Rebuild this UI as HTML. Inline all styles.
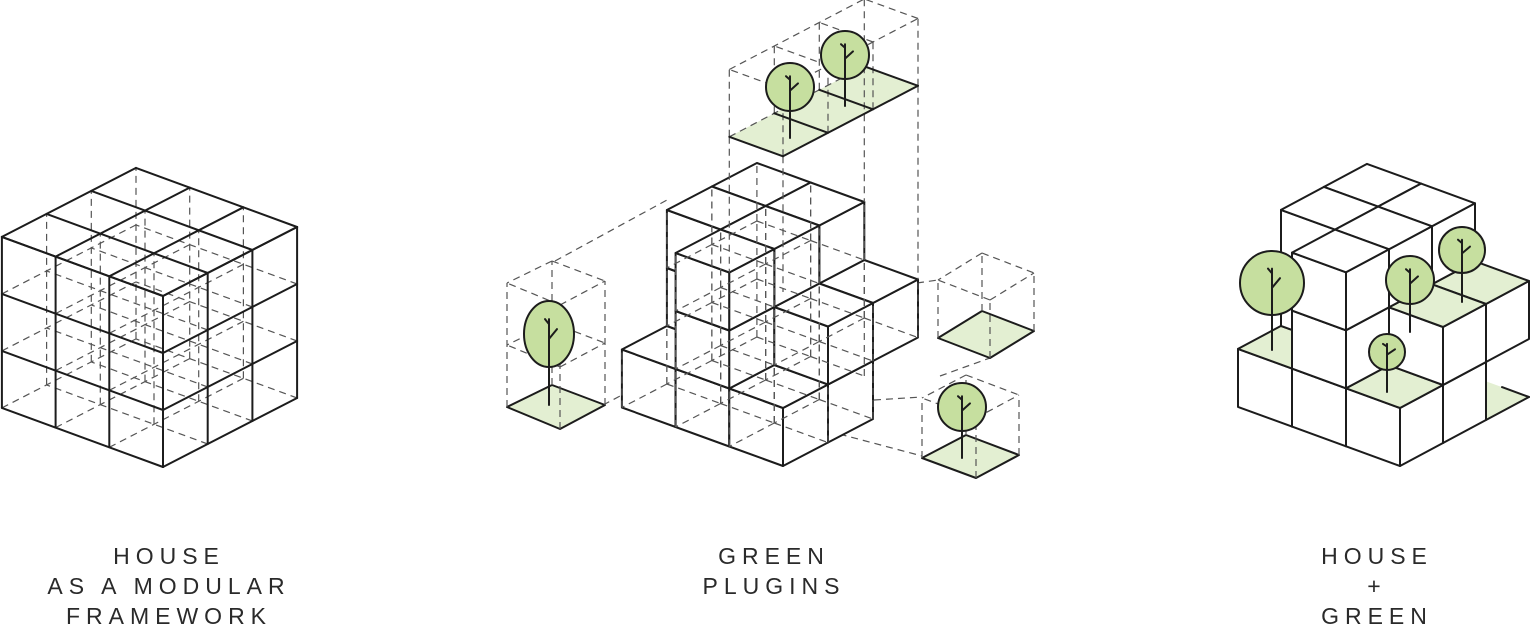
<!DOCTYPE html>
<html><head><meta charset="utf-8">
<style>
html,body{margin:0;padding:0;background:#fff;}
svg{display:block;}
text{font-family:"Liberation Sans",sans-serif;font-size:23px;fill:#2a2a2a;letter-spacing:6px;text-anchor:middle;}
</style></head>
<body>
<svg id="s" width="1536" height="632" viewBox="0 0 1536 632" xmlns="http://www.w3.org/2000/svg">
<g id="g"></g>
<text x="169" y="564">HOUSE</text>
<text x="169" y="594">AS A MODULAR</text>
<text x="169" y="624">FRAMEWORK</text>
<text x="774" y="564">GREEN</text>
<text x="774" y="594">PLUGINS</text>
<text x="1377" y="564">HOUSE</text>
<text x="1377" y="594">+</text>
<text x="1377" y="624">GREEN</text>
</svg>
<script>
var out=[];
var SOL='stroke="#1c1c1c" stroke-width="2" stroke-linejoin="round" stroke-linecap="round"';
var DSH='stroke="#555" stroke-width="1.2" stroke-dasharray="7 5" fill="none"';
var LG='#e3efd2', TG='#c6df9f';
function mk(o,A,B,Z){return function(a,b,z){return [o[0]+A[0]*a+B[0]*b, o[1]+A[1]*a+B[1]*b-Z*z];};}
function pts(p){return p.map(function(q){return q[0].toFixed(1)+','+q[1].toFixed(1);}).join(' ');}
function line(p,q,st){out.push('<line x1="'+p[0].toFixed(1)+'" y1="'+p[1].toFixed(1)+'" x2="'+q[0].toFixed(1)+'" y2="'+q[1].toFixed(1)+'" '+st+'/>');}
function poly(p,fill,st){out.push('<polygon points="'+pts(p)+'" fill="'+fill+'" '+st+'/>');}
function tree(cx,cy,r,ry,by){
  out.push('<ellipse cx="'+cx+'" cy="'+cy+'" rx="'+r+'" ry="'+ry+'" fill="'+TG+'" '+SOL+'/>');
  line([cx,cy-ry*0.45],[cx,by],SOL);
  line([cx,cy+ry*0.15],[cx+8,cy-ry*0.15],SOL);
  line([cx,cy-ry*0.3],[cx-4,cy-ry*0.45],SOL);
}
// LEFT FIGURE
(function(){
 var P=mk([163,467],[-53.7,-19.7],[44.7,-23],57);
 var i,j;
 for(i=0;i<=3;i++)for(j=0;j<=3;j++){
   if(!(i==0||j==0)) line(P(i,j,0),P(i,j,3),DSH);
 }
 for(var z=0;z<=3;z++){for(i=0;i<=3;i++){ if(!(z==3||i==0)) line(P(i,0,z),P(i,3,z),DSH);}
  for(j=0;j<=3;j++){ if(!(z==3||j==0)) line(P(0,j,z),P(3,j,z),DSH);} }
 for(i=0;i<=3;i++){line(P(i,0,0),P(i,0,3),SOL);line(P(i,0,3),P(i,3,3),SOL);}
 for(j=0;j<=3;j++){line(P(0,j,0),P(0,j,3),SOL);line(P(0,j,3),P(3,j,3),SOL);}
 for(z=0;z<=3;z++){line(P(0,0,z),P(3,0,z),SOL);line(P(0,0,z),P(0,3,z),SOL);}
})();
function house(P,green,dashed){
 var cells=[[0,0,0],[1,0,0],[1,0,1],[1,0,2],[2,0,0],[0,1,0],[0,1,1],[0,2,1]];
 for(var i=1;i<3;i++)for(var j=1;j<3;j++)for(var k=0;k<3;k++)cells.push([i,j,k]);
 cells.sort(function(a,b){var ka=a[2]-a[0]-a[1],kb=b[2]-b[0]-b[1];return ka-kb||a[2]-b[2];});
 var gt={'0,0,0':1,'0,1,1':1,'0,2,1':1,'2,0,0':1};
 if(green){poly([P(0,2,0),P(0,3,0),P(1,3,0),P(1,2,0)],LG,'stroke="none"');line(P(0,2,0),P(0,3,0),SOL);line(P(0,3,0),P(0.5,3,0),SOL);}
 cells.forEach(function(c){
  var a=c[0],b=c[1],z=c[2];
  var tf=(green&&gt[a+','+b+','+z])?LG:'#fff';
  poly([P(a,b,z),P(a+1,b,z),P(a+1,b,z+1),P(a,b,z+1)],'#fff',SOL);
  poly([P(a,b,z),P(a,b+1,z),P(a,b+1,z+1),P(a,b,z+1)],'#fff',SOL);
  poly([P(a,b,z+1),P(a+1,b,z+1),P(a+1,b+1,z+1),P(a,b+1,z+1)],tf,SOL);
 });
 if(dashed){cells.forEach(function(c){var a=c[0],b=c[1],z=c[2];
  line(P(a+1,b+1,z),P(a+1,b+1,z+1),DSH);line(P(a+1,b+1,z),P(a,b+1,z),DSH);line(P(a+1,b+1,z),P(a+1,b,z),DSH);
  line(P(a,b+1,z),P(a,b+1,z+1),DSH);line(P(a+1,b,z),P(a+1,b,z+1),DSH);
 });}
}
// MIDDLE
(function(){
 var P=mk([783,466],[-53.7,-19.5],[45,-23.5],58);
 line([555,261],[667,200],DSH);
 line([603,405],[622,395],DSH);
 line([828,431],[922,456],DSH);
 line([874,400],[922,397],DSH);
 line([917,283],[938,280],DSH);
 line([940,376],[990,358],DSH);
 house(P,false,true);
 var zt=5.34,zh=6.5;
 var i,j;
 poly([P(0,0,zt),P(1,0,zt),P(1,3,zt),P(0,3,zt)],LG,'stroke="none"');
 for(j=0;j<=3;j++){line(P(0,j,zt),P(0,j,zh),DSH);line(P(1,j,zt),P(1,j,zh),DSH);line(P(0,j,zh),P(1,j,zh),DSH);}
 line(P(0,0,zh),P(0,3,zh),DSH);line(P(1,0,zh),P(1,3,zh),DSH);line(P(1,0,zt),P(1,3,zt),DSH);
 line(P(1,0,zt),P(1,0,3),DSH);line(P(0,3,zt),P(0,3,2),DSH);line(P(1,3,zt),P(1,3,3),DSH);line(P(0,0,zt),P(0,0,3),DSH);
 line(P(1,0,zt),P(0,0,zt),SOL);line(P(0,0,zt),P(0,3,zt),SOL);line(P(0,3,zt),P(1,3,zt),SOL);
 for(j=1;j<3;j++)line(P(0,j,zt),P(1,j,zt),SOL);
 tree(790,87,24,24,138);tree(845,55,24,24,106);
 function box(f,l,r,b,h,mid){
  poly([f,l,b,r],LG,SOL);
  var U=function(p,d){return [p[0],p[1]-d];};
  [f,l,r,b].forEach(function(p){line(p,U(p,h),DSH);});
  line(U(f,h),U(l,h),DSH);line(U(f,h),U(r,h),DSH);line(U(b,h),U(l,h),DSH);line(U(b,h),U(r,h),DSH);
  if(mid){line(U(f,h/2),U(l,h/2),DSH);line(U(f,h/2),U(r,h/2),DSH);line(U(b,h/2),U(l,h/2),DSH);line(U(b,h/2),U(r,h/2),DSH);}
 }
 box([560,429],[507,407],[605,405],[552,385],124,true);
 tree(549,334,25,33,405);
 box([990,358],[938,338],[1034,331],[982,311],58,false);
 box([976,478],[922,458],[1019,455],[966,435],60,false);
 tree(962,407,24,24,458);
})();
// RIGHT
(function(){
 var P=mk([1400,466],[-54,-19.7],[43,-23],58);
 house(P,true,false);
 tree(1272,283,32,32,350);
 tree(1410,280,24,24,332);
 tree(1462,250,23,23,302);
 tree(1387,352,18,18,392);
})();
document.getElementById('g').innerHTML=out.join('');
</script>
</body></html>
